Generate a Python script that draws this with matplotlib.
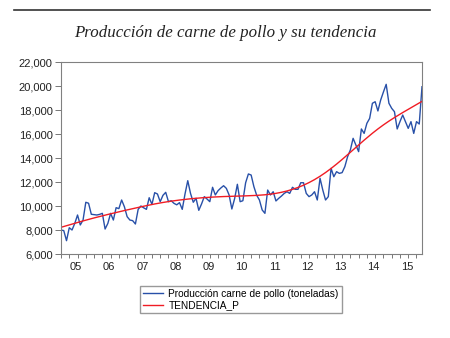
import numpy as np
import matplotlib
matplotlib.use("Agg")
import matplotlib.pyplot as plt

# produccion mensual ene-2005 .. dic-2015 (toneladas)
produccion = [
    8000, 7950, 7110, 8190, 8000, 8550, 9250, 8420, 8830, 10310, 10230, 9310,
    9280, 9250, 9300, 9390, 8080, 8550, 9390, 8830, 9860, 9780, 10500, 9940,
    9110, 8830, 8780, 8500, 9720, 10000, 9850, 9720, 10690, 10140, 11110, 11000,
    10360, 10890, 11140, 10360, 10440, 10220, 10100, 10280, 9720, 11000, 12110, 11050,
    10310, 10640, 9640, 10170, 10780, 10580, 10360, 11560, 10920, 11280, 11500, 11690,
    11470, 10920, 9750, 10610, 11810, 10360, 10440, 11940, 12670, 12580, 11610, 10900,
    10500, 9670, 9390, 11330, 10920, 11190, 10420, 10640, 10830, 11050, 11190, 11050,
    11560, 11390, 11390, 11940, 11940, 11050, 10780, 10920, 11190, 10500, 12310, 11330,
    10500, 10780, 13140, 12440, 12860, 12720, 12780, 13280, 14110, 14670, 15640, 15080,
    14530, 16420, 16050, 16890, 17300, 18560, 18690, 17920, 18830, 19500, 20140, 18560,
    18140, 17860, 16420, 17030, 17580, 17030, 16470, 17030, 16050, 17030, 16830, 19940,
]
years = ["05", "06", "07", "08", "09", "10", "11", "12", "13", "14", "15"]
yticks = [6000, 8000, 10000, 12000, 14000, 16000, 18000, 20000, 22000]


# tendencia: filtro Hodrick-Prescott (lambda mensual)
def hp_filter(y, lam=14400):
    y = np.asarray(y, dtype=float)
    n = len(y)
    d = np.zeros((n - 2, n))
    for i in range(n - 2):
        d[i, i:i + 3] = [1, -2, 1]
    return np.linalg.solve(np.eye(n) + lam * d.T @ d, y)


tendencia = hp_filter(produccion)
x = np.arange(len(produccion))

plt.rcParams['font.family'] = ['Liberation Sans', 'DejaVu Sans']
fig = plt.figure(figsize=(4.5, 3.38), dpi=100)
ax = fig.add_axes([61 / 450, 1 - 254 / 338, 361 / 450, 192 / 338])

ax.plot(x, produccion, color='#2850a8', lw=1.0, label='Producción carne de pollo (toneladas)')
ax.plot(x, tendencia, color='#f01c24', lw=1.0, label='TENDENCIA_P')

ax.set_xlim(0, len(produccion) - 1)
ax.set_ylim(6000, 22000)
ax.set_yticks(yticks)
ax.set_yticklabels([f"{v:,}" for v in yticks], fontsize=8, color='#222222')

# ticks trimestrales sin etiqueta, etiquetas del año centradas
ax.set_xticks(np.arange(0, len(produccion), 3))
ax.set_xticklabels([])
ax.set_xticks([12 * i + 5.5 for i in range(len(years))], minor=True)
ax.set_xticklabels(years, minor=True, fontsize=8, color='#222222')
ax.tick_params(axis='x', which='major', length=3, width=0.6, color='#606060')
ax.tick_params(axis='x', which='minor', length=0, pad=6)
ax.tick_params(axis='y', length=4, width=0.6, color='#606060', pad=2)
for s in ax.spines.values():
    s.set_color('#808080')
    s.set_linewidth(0.8)

fig.legend(loc='upper left', bbox_to_anchor=(140 / 450, 1 - 286 / 338),
           borderaxespad=0, fontsize=7.3, frameon=True, fancybox=False,
           edgecolor='#808080', handlelength=2.0, handletextpad=0.5,
           borderpad=0.3, labelspacing=0.1)

fig.text(0.5, 1 - 33 / 338, 'Producción de carne de pollo y su tendencia',
         ha='center', va='center', fontsize=12.2, style='italic',
         family=['Liberation Serif', 'DejaVu Serif'], color='#222222')
fig.add_artist(plt.Line2D([14 / 450, 430 / 450], [1 - 10 / 338] * 2,
                          color='#333333', lw=1.2, transform=fig.transFigure))

fig.savefig('out.png', dpi=100)
